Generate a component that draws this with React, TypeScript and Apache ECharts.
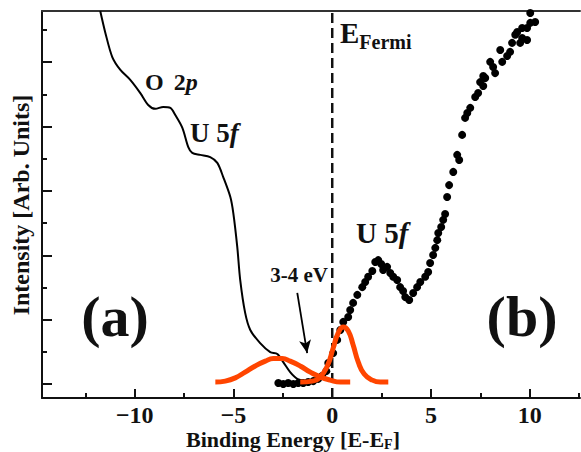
import React, { useEffect, useRef } from 'react';
import * as echarts from 'echarts';

const SERIF = '"Liberation Serif", "Times New Roman", serif';

// Axis extents and ticks
const X_MIN = -14.7;
const X_MAX = 12.55;
const Y_MIN = -0.435;
const Y_MAX = 11.59;
const xMajorTicks = [-10, -5, 0, 5, 10];
const xMinorTicks = [-12.5, -7.5, -2.5, 2.5, 7.5, 12.5];
const yMajorTicks = [0, 2, 4, 6, 8, 10];
const yMinorTicks = [1, 3, 5, 7, 9, 11];

// (a) valence band spectrum (continuous line)
const spectrumA: [number, number][] = [
  [-11.75, 11.59], [-11.49, 10.91], [-11.14, 10.16], [-10.73, 9.76], [-10.23, 9.45],
  [-9.72, 9.04], [-9.32, 8.67], [-8.96, 8.55], [-8.56, 8.61], [-8.2, 8.58],
  [-7.95, 8.36], [-7.59, 7.96], [-7.29, 7.36], [-7.09, 7.18], [-6.68, 7.12],
  [-6.18, 7.05], [-5.82, 6.87], [-5.52, 6.43], [-5.16, 5.81], [-5.01, 5.31],
  [-4.81, 4.26], [-4.66, 3.23], [-4.41, 2.21], [-4.15, 1.68], [-3.65, 1.27],
  [-3.14, 0.99], [-2.78, 0.93], [-2.48, 0.68], [-2.13, 0.37], [-1.77, 0.16], [-1.37, 0.09],
];

// (b) inverse photoemission spectrum (dots)
const spectrumB: [number, number][] = [
  [-2.73, 0.03], [-2.48, 0.0], [-2.23, 0.03], [-1.97, 0.0], [-1.72, 0.03], [-1.47, 0.03],
  [-1.22, 0.06], [-0.96, 0.09], [-0.71, 0.16], [-0.51, 0.25], [-0.3, 0.4], [-0.2, 0.65],
  [0.05, 0.96], [0.25, 1.37], [0.41, 1.68], [0.56, 1.93], [0.81, 2.08], [0.91, 2.3],
  [1.06, 2.52], [1.27, 2.77], [1.52, 3.01], [1.67, 3.17], [1.82, 3.33], [2.03, 3.51],
  [2.18, 3.79], [2.33, 3.85], [2.48, 3.73], [2.58, 3.54], [2.78, 3.64], [2.94, 3.45],
  [3.09, 3.33], [3.29, 3.23], [3.44, 3.01], [3.59, 2.89], [3.7, 2.7], [3.9, 2.61],
  [4.1, 2.83], [4.3, 3.01], [4.46, 3.17], [4.71, 3.33], [4.86, 3.48], [4.96, 3.76],
  [5.11, 4.01], [5.22, 4.23], [5.32, 4.47], [5.37, 4.69], [5.52, 4.88], [5.62, 5.1],
  [5.72, 5.28], [5.82, 5.81], [5.92, 6.18], [6.13, 6.59], [6.33, 7.12], [6.43, 6.96],
  [6.58, 7.74], [6.73, 8.27], [6.84, 8.42], [6.99, 8.58], [7.24, 8.92], [7.39, 9.04],
  [7.49, 9.38], [7.65, 9.26], [7.65, 9.57], [7.75, 9.51], [8.0, 10.01], [8.15, 9.85],
  [8.25, 9.66], [8.51, 10.38], [8.61, 10.01], [8.86, 10.19], [9.01, 10.32], [9.11, 10.6],
  [9.27, 10.85], [9.37, 10.94], [9.52, 10.6], [9.62, 11.06], [9.62, 10.75], [9.87, 10.69],
  [9.87, 11.06], [10.03, 11.22], [10.28, 11.25], [10.03, 11.53],
];

// Gaussian-like model peaks (red)
const occupiedPeak: [number, number][] = [
  [-5.92, 0.06], [-5.42, 0.09], [-4.91, 0.19], [-4.41, 0.37], [-3.9, 0.56], [-3.39, 0.71],
  [-2.99, 0.79], [-2.53, 0.79], [-2.13, 0.71], [-1.62, 0.56], [-1.11, 0.37], [-0.61, 0.22],
  [-0.1, 0.12], [0.41, 0.06], [0.91, 0.06],
];
const unoccupiedPeak: [number, number][] = [
  [-1.62, 0.06], [-1.01, 0.09], [-0.61, 0.22], [-0.25, 0.56], [0.05, 1.12], [0.3, 1.58],
  [0.56, 1.77], [0.81, 1.65], [1.06, 1.21], [1.32, 0.68], [1.62, 0.31], [2.03, 0.12],
  [2.43, 0.06], [2.84, 0.06],
];

const fermiLevel = 0;
const arrowStart: [number, number] = [-1.77, 2.83];
const arrowEnd: [number, number] = [-1.27, 0.96];

const AXIS_COLOR = '#111';
const RED = '#ff4500';

function fmt(v: number) {
  return v < 0 ? '\u2212' + Math.abs(v) : String(v);
}

export default function App() {
  const ref = useRef<HTMLDivElement>(null);
  useEffect(() => {
    const chart = echarts.init(ref.current!, null, { renderer: 'svg' });
    const baseX = { type: 'value', min: X_MIN, max: X_MAX, splitLine: { show: false } };
    const baseY = { type: 'value', min: Y_MIN, max: Y_MAX, splitLine: { show: false } };
    const option: any = {
      animation: false,
      backgroundColor: '#fff',
      grid: { left: 42, top: 11, right: 1, bottom: 54 },
      xAxis: [
        {
          ...baseX,
          position: 'bottom',
          axisLine: { show: true, onZero: false, lineStyle: { color: AXIS_COLOR, width: 2 } },
          axisTick: { show: true, inside: true, length: 9, customValues: xMajorTicks, lineStyle: { color: AXIS_COLOR, width: 2 } },
          axisLabel: {
            customValues: xMajorTicks,
            formatter: fmt,
            fontFamily: SERIF,
            fontWeight: 'bold',
            fontSize: 24,
            lineHeight: 22,
            color: AXIS_COLOR,
            margin: 6,
          },
        },
        {
          ...baseX,
          position: 'bottom',
          axisLine: { show: false, onZero: false },
          axisTick: { show: true, inside: true, length: 5, customValues: xMinorTicks, lineStyle: { color: AXIS_COLOR, width: 2 } },
          axisLabel: { show: false },
        },
        {
          ...baseX,
          position: 'top',
          axisLine: { show: true, onZero: false, lineStyle: { color: '#333', width: 2 } },
          axisTick: { show: false },
          axisLabel: { show: false },
        },
      ],
      yAxis: [
        {
          ...baseY,
          position: 'left',
          axisLine: { show: true, onZero: false, lineStyle: { color: AXIS_COLOR, width: 2 } },
          axisTick: { show: true, inside: true, length: 10, customValues: yMajorTicks, lineStyle: { color: AXIS_COLOR, width: 2 } },
          axisLabel: { show: false },
        },
        {
          ...baseY,
          position: 'left',
          axisLine: { show: false, onZero: false },
          axisTick: { show: true, inside: true, length: 5, customValues: yMinorTicks, lineStyle: { color: AXIS_COLOR, width: 2 } },
          axisLabel: { show: false },
        },
      ],
      series: [
        {
          type: 'line',
          data: [[fermiLevel, Y_MIN], [fermiLevel, Y_MAX]],
          showSymbol: false,
          lineStyle: { color: '#111', width: 2.5, type: [10, 5] },
          z: 1,
          markLine: {
            silent: true,
            symbol: ['none', 'arrow'],
            symbolSize: [9, 13],
            label: { show: false },
            lineStyle: { color: '#000', width: 1.8, type: 'solid' },
            data: [[{ coord: arrowStart }, { coord: arrowEnd }]],
          },
        },
        {
          type: 'line',
          data: spectrumA,
          showSymbol: false,
          smooth: 0.3,
          lineStyle: { color: '#000', width: 2 },
          z: 2,
        },
        {
          type: 'scatter',
          data: spectrumB,
          symbolSize: 8,
          itemStyle: { color: '#000', opacity: 1 },
          z: 3,
        },
        {
          type: 'line',
          data: occupiedPeak,
          showSymbol: false,
          smooth: 0.5,
          lineStyle: { color: RED, width: 5 },
          z: 4,
        },
        {
          type: 'line',
          data: unoccupiedPeak,
          showSymbol: false,
          smooth: 0.5,
          lineStyle: { color: RED, width: 5 },
          z: 4,
        },
      ],
      graphic: [
        {
          type: 'text',
          x: 21,
          y: 205,
          rotation: Math.PI / 2,
          style: {
            text: 'Intensity [Arb. Units]',
            font: `bold 24px ${SERIF}`,
            fill: '#111',
            align: 'center',
            verticalAlign: 'middle',
          },
        },
        {
          type: 'text',
          x: 293,
          y: 439,
          style: {
            text: '{a|Binding Energy [E-E}{s|F}{a|]}',
            align: 'center',
            verticalAlign: 'middle',
            fill: '#111',
            rich: {
              a: { fontFamily: SERIF, fontWeight: 'bold', fontSize: 22, lineHeight: 24, fill: '#111' },
              s: { fontFamily: SERIF, fontWeight: 'bold', fontSize: 14, lineHeight: 10, verticalAlign: 'bottom', fill: '#111' },
            },
          },
        },
        {
          type: 'text',
          x: 145,
          y: 82,
          style: {
            text: '{b|O}{g| }{b|2}{i|p}',
            align: 'left',
            verticalAlign: 'middle',
            rich: {
              b: { fontFamily: SERIF, fontWeight: 'bold', fontSize: 24, fill: '#111' },
              g: { fontFamily: SERIF, fontSize: 24, width: 10 },
              i: { fontFamily: SERIF, fontWeight: 'bold', fontStyle: 'italic', fontSize: 24, fill: '#111' },
            },
          },
        },
        {
          type: 'text',
          x: 190,
          y: 133,
          style: {
            text: '{b|U 5}{i|f}',
            align: 'left',
            verticalAlign: 'middle',
            rich: {
              b: { fontFamily: SERIF, fontWeight: 'bold', fontSize: 27, fill: '#111' },
              i: { fontFamily: SERIF, fontWeight: 'bold', fontStyle: 'italic', fontSize: 27, fill: '#111' },
            },
          },
        },
        {
          type: 'text',
          x: 356,
          y: 233,
          style: {
            text: '{b|U 5}{i|f}',
            align: 'left',
            verticalAlign: 'middle',
            rich: {
              b: { fontFamily: SERIF, fontWeight: 'bold', fontSize: 29, fill: '#111' },
              i: { fontFamily: SERIF, fontWeight: 'bold', fontStyle: 'italic', fontSize: 29, fill: '#111' },
            },
          },
        },
        {
          type: 'text',
          x: 299,
          y: 275,
          style: {
            text: '3-4 eV',
            font: `bold 21px ${SERIF}`,
            fill: '#111',
            align: 'center',
            verticalAlign: 'middle',
          },
        },
        {
          type: 'text',
          x: 340,
          y: 33,
          style: {
            text: '{e|E}{s|Fermi}',
            align: 'left',
            verticalAlign: 'middle',
            rich: {
              e: { fontFamily: SERIF, fontWeight: 'bold', fontSize: 29, lineHeight: 38, fill: '#111' },
              s: { fontFamily: SERIF, fontWeight: 'bold', fontSize: 20, lineHeight: 20, verticalAlign: 'bottom', fill: '#111' },
            },
          },
        },
        {
          type: 'text',
          x: 115,
          y: 316,
          style: {
            text: '(a)',
            font: `bold 58px ${SERIF}`,
            fill: '#111',
            align: 'center',
            verticalAlign: 'middle',
          },
        },
        {
          type: 'text',
          x: 522,
          y: 316,
          style: {
            text: '(b)',
            font: `bold 58px ${SERIF}`,
            fill: '#111',
            align: 'center',
            verticalAlign: 'middle',
          },
        },
      ],
    };
    chart.setOption(option);
    return () => chart.dispose();
  }, []);
  return (
    <div
      ref={ref}
      style={{ position: 'fixed', left: 0, top: 0, width: 581, height: 452, background: '#fff' }}
    />
  );
}
